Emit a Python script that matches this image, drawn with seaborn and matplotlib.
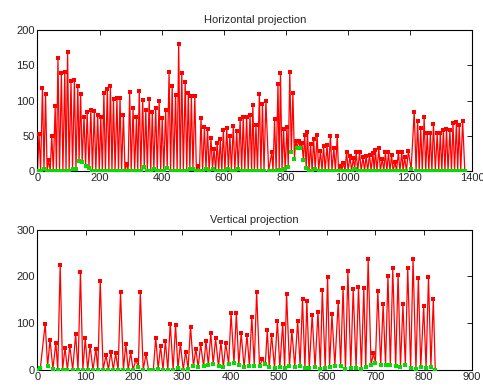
import matplotlib
matplotlib.use("Agg")
import matplotlib.pyplot as plt
import seaborn as sns
import pandas as pd

# Horizontal projection: local maxima (x, value)
h_peaks = [
    (5, 52), (16, 118), (26, 109), (36, 15), (46, 50), (57, 92), (66, 161), (77, 139),
    (88, 141), (97, 169), (108, 128), (119, 129), (130, 121), (139, 109), (150, 77),
    (160, 83), (172, 87), (183, 85), (194, 79), (204, 77), (214, 111), (225, 117),
    (235, 121), (245, 102), (256, 103), (266, 104), (277, 80), (288, 10), (297, 112),
    (308, 90), (319, 76), (328, 114), (339, 101), (349, 86), (360, 102), (370, 84),
    (381, 89), (392, 100), (402, 75), (413, 86), (424, 140), (434, 121), (445, 108),
    (455, 181), (465, 139), (476, 127), (486, 111), (496, 106), (507, 107), (518, 7),
    (527, 75), (538, 62), (548, 59), (559, 46), (569, 31), (579, 40), (589, 45),
    (599, 58), (610, 61), (620, 50), (631, 64), (642, 57), (653, 73), (663, 77),
    (674, 77), (685, 80), (694, 93), (704, 65), (715, 109), (725, 95), (736, 99),
    (755, 26), (764, 73), (775, 124), (783, 139), (793, 59), (804, 62), (813, 141),
    (823, 111), (832, 43), (842, 43), (852, 39), (861, 51), (870, 55), (880, 38),
    (890, 45), (901, 51), (912, 28), (922, 35), (933, 37), (944, 50), (955, 32),
    (966, 50), (975, 7), (986, 11), (996, 27), (1007, 21), (1018, 18), (1027, 26),
    (1038, 26), (1049, 19), (1059, 21), (1070, 23), (1081, 25), (1089, 30), (1100, 32),
    (1111, 17), (1121, 26), (1131, 26), (1141, 22), (1152, 12), (1163, 26), (1174, 26),
    (1183, 19), (1195, 28), (1214, 84), (1225, 71), (1235, 61), (1246, 76), (1256, 53),
    (1266, 53), (1276, 67), (1288, 53), (1298, 53), (1308, 58), (1318, 60), (1329, 58),
    (1339, 68), (1350, 69), (1359, 65), (1370, 71),
]

# Horizontal projection: local minima (x, value)
h_valleys = [
    (0, 0), (10, 0), (21, 2), (31, 0), (41, 0), (51, 0), (61, 0), (71, 0), (82, 0),
    (92, 0), (102, 0), (113, 2), (124, 3), (134, 14), (144, 13), (155, 7), (166, 4),
    (177, 0), (188, 0), (199, 0), (209, 0), (219, 0), (230, 0), (240, 0), (250, 0),
    (261, 0), (271, 0), (282, 0), (292, 0), (302, 0), (313, 0), (323, 0), (333, 0),
    (344, 5), (354, 0), (365, 0), (375, 2), (386, 0), (397, 0), (407, 0), (418, 4),
    (429, 0), (439, 0), (450, 0), (460, 0), (470, 0), (481, 0), (491, 2), (501, 2),
    (512, 0), (522, 0), (532, 0), (543, 2), (553, 0), (564, 3), (574, 0), (584, 0),
    (594, 0), (604, 0), (615, 2), (625, 0), (636, 0), (647, 2), (658, 0), (668, 0),
    (679, 0), (690, 0), (699, 0), (709, 0), (720, 0), (730, 0), (745, 0), (759, 0),
    (769, 0), (779, 1), (788, 0), (798, 3), (808, 5), (818, 26), (828, 17), (837, 33),
    (847, 32), (857, 15), (866, 4), (875, 0), (885, 0), (895, 2), (906, 0), (917, 0),
    (927, 0), (938, 0), (949, 0), (960, 0), (970, 0), (980, 0), (991, 0), (1001, 0),
    (1012, 0), (1022, 3), (1032, 0), (1043, 0), (1054, 0), (1064, 0), (1075, 0),
    (1085, 0), (1094, 0), (1105, 0), (1116, 0), (1126, 0), (1136, 0), (1146, 0),
    (1157, 0), (1168, 0), (1178, 0), (1189, 0), (1204, 2), (1220, 0), (1230, 0),
    (1240, 0), (1251, 0), (1261, 0), (1271, 0), (1282, 0), (1293, 0), (1303, 0),
    (1313, 0), (1323, 0), (1334, 0), (1344, 0), (1354, 0), (1364, 0), (1377, 0),
]

# Vertical projection: local maxima (x, value)
v_peaks = [
    (16, 99), (26, 64), (38, 58), (47, 224), (57, 47), (67, 51), (79, 76), (89, 209),
    (99, 67), (109, 51), (121, 45), (130, 190), (142, 31), (152, 39), (162, 35),
    (172, 166), (183, 56), (193, 37), (204, 21), (213, 166), (225, 34), (245, 69),
    (255, 51), (265, 61), (275, 99), (286, 96), (296, 56), (307, 39), (317, 92),
    (328, 45), (338, 55), (349, 61), (359, 78), (369, 67), (380, 59), (390, 57),
    (401, 121), (412, 121), (422, 78), (434, 74), (444, 114), (454, 167), (466, 22),
    (476, 85), (485, 75), (497, 104), (508, 99), (516, 163), (527, 83), (539, 105),
    (549, 151), (558, 147), (569, 117), (581, 124), (590, 171), (601, 199), (610, 119),
    (623, 146), (633, 176), (643, 211), (654, 173), (665, 177), (676, 176), (685, 237),
    (696, 35), (705, 169), (716, 141), (726, 201), (736, 217), (747, 204), (757, 140),
    (767, 217), (778, 237), (789, 196), (800, 136), (810, 199), (820, 151),
]

# Vertical projection: local minima (x, value)
v_valleys = [
    (0, 0), (6, 4), (21, 8), (32, 2), (42, 0), (52, 0), (62, 0), (73, 0), (84, 0),
    (94, 0), (104, 0), (115, 0), (125, 0), (136, 0), (147, 0), (157, 0), (167, 0),
    (178, 0), (188, 0), (198, 0), (209, 5), (219, 0), (230, 0), (240, 0), (250, 2),
    (260, 0), (270, 0), (281, 0), (291, 3), (302, 0), (312, 2), (323, 7), (333, 5),
    (344, 7), (354, 10), (364, 12), (375, 7), (385, 5), (396, 12), (407, 14),
    (417, 10), (428, 5), (439, 8), (449, 9), (460, 8), (472, 12), (480, 5), (491, 4),
    (502, 5), (512, 4), (522, 8), (533, 6), (544, 8), (554, 3), (563, 3), (575, 5),
    (586, 2), (596, 4), (605, 5), (616, 8), (628, 9), (638, 1), (649, 3), (660, 4),
    (671, 2), (680, 5), (691, 10), (700, 15), (711, 10), (721, 10), (731, 10),
    (742, 7), (752, 6), (762, 10), (773, 4), (784, 2), (794, 5), (805, 4), (815, 6),
    (824, 0),
]

h_xticks = [0, 200, 400, 600, 800, 1000, 1200, 1400]
h_yticks = [0, 50, 100, 150, 200]
v_xticks = [0, 100, 200, 300, 400, 500, 600, 700, 800, 900]
v_yticks = [0, 100, 200, 300]

sns.set_style("white")
plt.rcParams["font.family"] = ["Liberation Sans", "DejaVu Sans"]
plt.rcParams["font.size"] = 8


def profile_frame(peaks, valleys):
    pk = pd.DataFrame(peaks, columns=["x", "y"]).assign(kind="peak")
    vl = pd.DataFrame(valleys, columns=["x", "y"]).assign(kind="valley")
    return pd.concat([pk, vl]).sort_values("x").reset_index(drop=True)


def draw_profile(ax, peaks, valleys, title, xticks, yticks):
    df = profile_frame(peaks, valleys)
    sns.lineplot(data=df, x="x", y="y", ax=ax, color="#ff0000", linewidth=0.9,
                 estimator=None, sort=True)
    sns.scatterplot(data=df[df.kind == "valley"], x="x", y="y", ax=ax,
                    color="#00e000", marker="s", s=7, linewidth=0, zorder=3)
    sns.scatterplot(data=df[df.kind == "peak"], x="x", y="y", ax=ax,
                    color="#ff0000", marker="s", s=7, linewidth=0, zorder=4)
    ax.set_xlim(xticks[0], xticks[-1])
    ax.set_ylim(yticks[0], yticks[-1])
    ax.set_xticks(xticks)
    ax.set_yticks(yticks)
    ax.set_xlabel("")
    ax.set_ylabel("")
    ax.set_title(title, fontsize=8, pad=5)
    ax.tick_params(direction="in", top=True, right=True, length=3.5, width=0.6,
                   labelsize=8, pad=2, color="black")
    for sp in ax.spines.values():
        sp.set_visible(True)
        sp.set_color("black")
        sp.set_linewidth(0.8)


fig = plt.figure(figsize=(4.83, 3.90), dpi=100)
ax_h = fig.add_axes([0.0776, 0.5623, 0.8995, 0.36])
ax_v = fig.add_axes([0.0776, 0.0520, 0.8995, 0.359])

draw_profile(ax_h, h_peaks, h_valleys, "Horizontal projection", h_xticks, h_yticks)
draw_profile(ax_v, v_peaks, v_valleys, "Vertical projection", v_xticks, v_yticks)

fig.savefig("out.png", dpi=100, facecolor="white")
